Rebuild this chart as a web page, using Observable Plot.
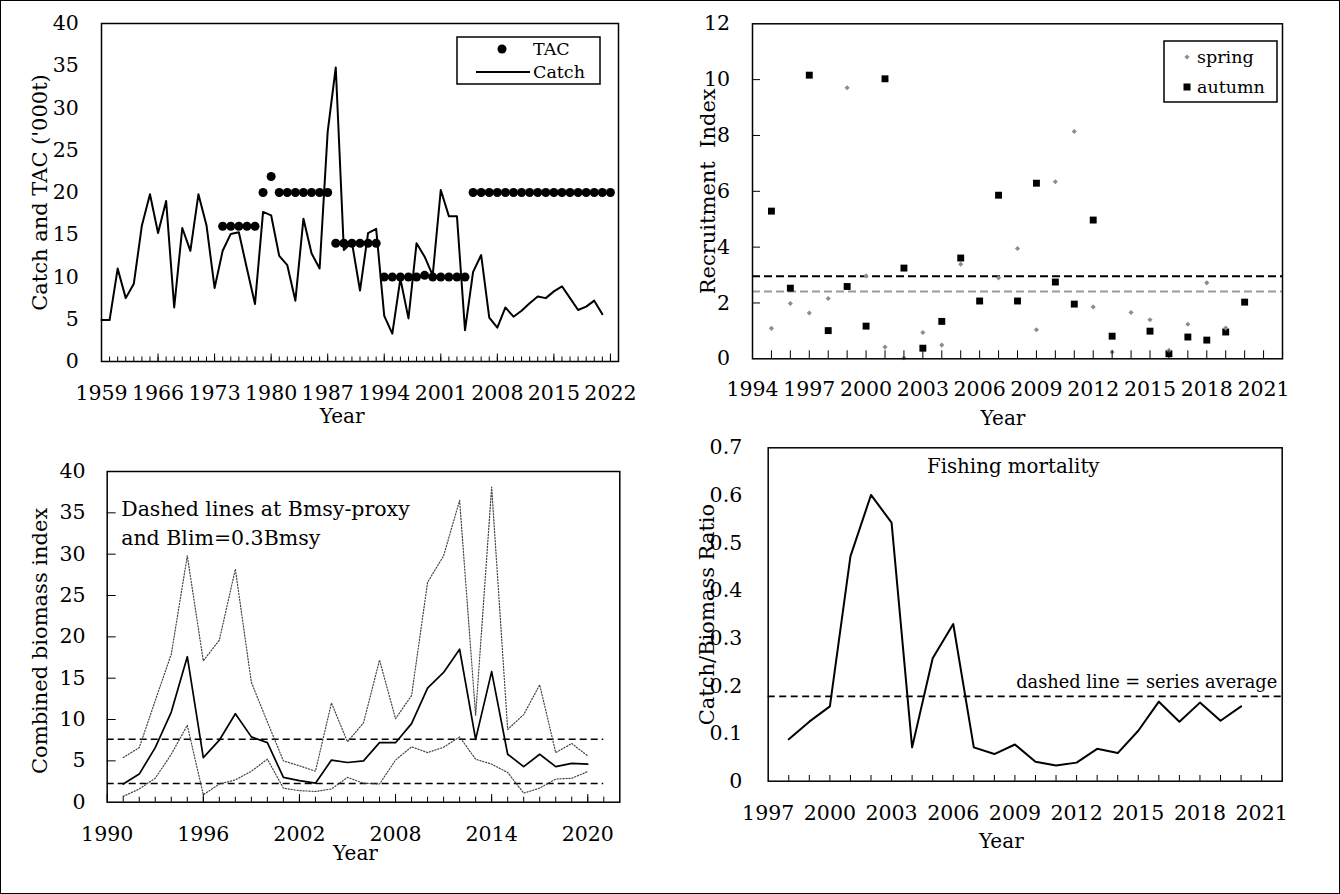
<!DOCTYPE html>
<html>
<head>
<meta charset="utf-8">
<script src="https://cdn.jsdelivr.net/npm/d3@7"></script>
<script src="https://cdn.jsdelivr.net/npm/@observablehq/plot@0.6"></script>
<style>
html,body{margin:0;padding:0;background:#fff;}
#fig{position:relative;width:1340px;height:894px;overflow:hidden;background:#fff;}
#fig svg{position:absolute;}
#border{position:absolute;left:0;top:0;width:1340px;height:894px;box-sizing:border-box;border:1px solid #000;pointer-events:none;z-index:5;}
</style>
</head>
<body>
<div id="fig"><div id="border"></div></div>
<script>
// ---------------- data ----------------
// Panel 1: catch and TAC ('000 t)
const catchYears = d3.range(1959, 2022);
const catchValues = [4.9, 4.9, 11.0, 7.5, 9.2, 16.1, 19.8, 15.2, 19.0, 6.4,
  15.8, 13.1, 19.8, 16.1, 8.7, 13.1, 15.1, 15.3, 11.0, 6.8,
  17.7, 17.3, 12.5, 11.4, 7.2, 16.9, 12.8, 11.0, 27.2, 34.8,
  13.2, 14.1, 8.4, 15.2, 15.7, 5.4, 3.3, 9.8, 5.1, 14.0,
  12.4, 10.2, 20.3, 17.2, 17.2, 3.7, 10.6, 12.6, 5.2, 4.0,
  6.4, 5.3, 6.0, 6.9, 7.7, 7.5, 8.3, 8.9, 7.5, 6.1,
  6.5, 7.2, 5.6];
const tacYears = d3.range(1974, 2023);
const tacValues = [16, 16, 16, 16, 16, 20, 21.9, 20, 20, 20, 20, 20, 20, 20,
  14, 14, 14, 14, 14, 14, 10, 10, 10, 10, 10, 10.2, 10, 10, 10, 10, 10,
  20, 20, 20, 20, 20, 20, 20, 20, 20, 20, 20, 20, 20, 20, 20, 20, 20, 20];
const catchXLabels = [1959, 1966, 1973, 1980, 1987, 1994, 2001, 2008, 2015, 2022];
const catchYLabels = [0, 5, 10, 15, 20, 25, 30, 35, 40];

// Panel 2: recruitment index
const recYears = d3.range(1995, 2021);
const springValues = [1.09, 1.98, 1.64, 2.16, 9.71, 2.97, 0.42, 0.03, 0.94, 0.49,
  3.39, null, 2.90, 3.95, 1.04, 6.34, 8.14, 1.86, 0.24, 1.66,
  1.40, 0.30, 1.24, 2.72, 1.10, null];
const autumnValues = [5.29, 2.53, 10.16, 1.01, 2.59, 1.17, 10.03, 3.25, 0.38, 1.34,
  3.61, 2.07, 5.86, 2.07, 6.29, 2.75, 1.96, 4.97, 0.81, null,
  0.99, 0.18, 0.78, 0.67, 0.96, 2.03];
const springMean = 2.41;
const autumnMean = 2.96;
const recXLabels = [1994, 1997, 2000, 2003, 2006, 2009, 2012, 2015, 2018, 2021];
const recYLabels = [0, 2, 4, 6, 8, 10, 12];

// Panel 3: combined biomass index
const bioYears = d3.range(1991, 2021);
const bioIndex = [2.2, 3.4, 6.6, 10.9, 17.6, 5.4, 7.5, 10.7, 7.9, 7.2,
  3.0, 2.6, 2.3, 5.1, 4.8, 5.0, 7.2, 7.2, 9.5, 13.8,
  15.7, 18.5, 7.6, 15.8, 5.8, 4.3, 5.8, 4.3, 4.7, 4.6];
const bioUpper = [5.4, 6.6, 12.3, 17.9, 29.8, 17.1, 19.6, 28.2, 14.5, 9.7,
  5.0, 4.4, 3.75, 12.0, 7.3, 9.6, 17.2, 10.1, 12.9, 26.6,
  29.8, 36.5, 10.5, 38.1, 8.8, 10.6, 14.2, 6.0, 7.1, 5.6];
const bioLower = [0.7, 1.6, 2.9, 5.8, 9.3, 0.9, 2.2, 2.7, 3.75, 5.2,
  1.7, 1.4, 1.3, 1.6, 3.0, 2.3, 2.2, 5.1, 6.7, 6.0,
  6.65, 7.9, 5.2, 4.6, 3.6, 1.1, 1.7, 2.8, 2.9, 3.7];
const bmsyProxy = 7.6;
const blim = 2.25;
const refLineYears = [1990, 2021];
const bioXLabels = [1990, 1996, 2002, 2008, 2014, 2020];
const bioYLabels = [0, 5, 10, 15, 20, 25, 30, 35, 40];

// Panel 4: fishing mortality (catch/biomass ratio)
const fmYears = d3.range(1998, 2021);
const fmValues = [0.088, 0.125, 0.157, 0.472, 0.601, 0.543, 0.071, 0.258, 0.330, 0.071,
  0.057, 0.077, 0.041, 0.033, 0.039, 0.068, 0.059, 0.106, 0.167, 0.125,
  0.165, 0.127, 0.157];
const fmAverage = 0.178;
const fmXLabels = [1997, 2000, 2003, 2006, 2009, 2012, 2015, 2018, 2021];
const fmYLabels = [0, 0.1, 0.2, 0.3, 0.4, 0.5, 0.6, 0.7];

// ---------------- helpers ----------------
const FONT = '"DejaVu Serif", serif';
const fig = document.getElementById("fig");
const baseStyle = {fontFamily: FONT, fontSize: "20.5px", background: "transparent", overflow: "visible", color: "#000"};
const yearFmt = d => String(d);
function place(svg, left, top) {
  svg.style.left = left + "px";
  svg.style.top = top + "px";
  fig.appendChild(svg);
}
const rows = (xs, ys) => xs.map((x, i) => ({x, y: ys[i]})).filter(d => d.y != null);
const label = (txt, o) => Plot.text([txt], {text: d => d, textAnchor: "middle", lineAnchor: "middle", fill: "#000", ...o});
const dotted = {stroke: "#444", strokeWidth: 1.2, strokeDasharray: "1.2,1.8"};

// ---------------- panel 1 ----------------
place(Plot.plot({
  width: 670, height: 430,
  marginLeft: 101, marginRight: 52, marginTop: 23, marginBottom: 69,
  style: baseStyle,
  x: {domain: [1959, 2023]},
  y: {domain: [0, 40]},
  marks: [
    Plot.line(rows(catchYears, catchValues), {x: "x", y: "y", stroke: "#000", strokeWidth: 2}),
    Plot.dot(rows(tacYears, tacValues), {x: "x", y: "y", r: 4.5, fill: "#000", stroke: null}),
    Plot.axisX({ticks: d3.range(1959, 2024), tickSize: -4.5, tickFormat: () => "", label: null}),
    Plot.axisX({ticks: catchXLabels, tickSize: -7.5, tickPadding: 31.5, tickFormat: yearFmt, label: null}),
    Plot.axisY({ticks: catchYLabels, tickSize: 0, tickPadding: 22.7, label: null}),
    Plot.frame({stroke: "#000", strokeWidth: 1.5}),
    label("Year", {frameAnchor: "bottom", dx: -17.8, dy: 55, fontSize: 20}),
    label("Catch and TAC ('000t)", {frameAnchor: "left", rotate: -90, dx: -61, fontSize: 21})
  ]
}), 0, 0);

// ---------------- panel 2 ----------------
place(Plot.plot({
  width: 670, height: 430,
  marginLeft: 82, marginRight: 58, marginTop: 23.3, marginBottom: 71.7,
  style: baseStyle,
  x: {domain: [1994, 2022]},
  y: {domain: [0, 12]},
  marks: [
    Plot.ruleY([springMean], {stroke: "#999", strokeWidth: 2, strokeDasharray: "8,4"}),
    Plot.ruleY([autumnMean], {stroke: "#000", strokeWidth: 2, strokeDasharray: "8,4"}),
    Plot.dot(rows(recYears, autumnValues), {x: "x", y: "y", symbol: "square", r: 3.9, fill: "#000", stroke: null}),
    Plot.dot(rows(recYears, springValues), {x: "x", y: "y", symbol: "diamond2", r: 2.3, fill: "#8c8c8c", stroke: null}),
    Plot.axisX({ticks: d3.range(1995, 2022), tickSize: -8, tickFormat: () => "", label: null}),
    Plot.axisX({ticks: recXLabels, tickSize: 0, tickPadding: 22.3, tickFormat: yearFmt, label: null}),
    Plot.axisY({ticks: recYLabels.slice(1, -1), tickSize: -8, tickFormat: () => "", label: null}),
    Plot.axisY({ticks: recYLabels, tickSize: 0, tickPadding: 22.4, label: null}),
    Plot.frame({stroke: "#000", strokeWidth: 1.5}),
    label("Year", {frameAnchor: "bottom", dx: -14.5, dy: 59.6, fontSize: 20}),
    label("Recruitment  Index", {frameAnchor: "left", rotate: -90, dx: -44, fontSize: 21})
  ]
}), 670, 0);

// ---------------- panel 3 ----------------
place(Plot.plot({
  width: 670, height: 464,
  marginLeft: 106.7, marginRight: 50.7, marginTop: 41, marginBottom: 92.3,
  style: baseStyle,
  x: {domain: [1990, 2022]},
  y: {domain: [0, 40]},
  marks: [
    Plot.ruleY([bmsyProxy, blim], {x1: refLineYears[0], x2: refLineYears[1], stroke: "#000", strokeWidth: 1.5, strokeDasharray: "7,4"}),
    Plot.line(rows(bioYears, bioUpper), {x: "x", y: "y", ...dotted}),
    Plot.line(rows(bioYears, bioLower), {x: "x", y: "y", ...dotted}),
    Plot.line(rows(bioYears, bioIndex), {x: "x", y: "y", stroke: "#000", strokeWidth: 1.7}),
    Plot.axisX({ticks: d3.range(1991, 2022), tickSize: -5, tickFormat: () => "", label: null}),
    Plot.axisX({ticks: bioXLabels, tickSize: -7.7, tickPadding: 31.7, tickFormat: yearFmt, label: null}),
    Plot.axisY({ticks: bioYLabels.slice(1, -1), tickSize: -9, tickFormat: () => "", label: null}),
    Plot.axisY({ticks: bioYLabels, tickSize: 0, tickPadding: 21.7, label: null}),
    Plot.frame({stroke: "#000", strokeWidth: 1.5}),
    Plot.text(["Dashed lines at Bmsy-proxy\nand Blim=0.3Bmsy"], {text: d => d, frameAnchor: "top-left", textAnchor: "start", lineAnchor: "top", dx: 14, dy: 24.4, lineHeight: 1.41, fontSize: 20.5, fill: "#000"}),
    label("Year", {frameAnchor: "bottom", dx: -8, dy: 51.5, fontSize: 20}),
    label("Combined biomass index", {frameAnchor: "left", rotate: -90, dx: -67, dy: 4, fontSize: 21})
  ]
}), 0, 430);

// ---------------- panel 4 ----------------
place(Plot.plot({
  width: 670, height: 464,
  marginLeft: 97.7, marginRight: 58.3, marginTop: 17.3, marginBottom: 113.3,
  style: baseStyle,
  x: {domain: [1997, 2022]},
  y: {domain: [0, 0.7]},
  marks: [
    Plot.ruleY([fmAverage], {stroke: "#000", strokeWidth: 1.8, strokeDasharray: "7,4.5"}),
    Plot.line(rows(fmYears, fmValues), {x: "x", y: "y", stroke: "#000", strokeWidth: 2}),
    Plot.axisX({ticks: d3.range(1998, 2022), tickSize: -5.7, tickFormat: () => "", label: null}),
    Plot.axisX({ticks: fmXLabels, tickSize: 0, tickPadding: 23.9, tickFormat: yearFmt, label: null}),
    Plot.axisY({ticks: fmYLabels, tickSize: 0, tickPadding: 26, tickFormat: d => d === 0 ? "0" : d.toFixed(1), label: null}),
    Plot.frame({stroke: "#000", strokeWidth: 1.5}),
    label("Fishing mortality", {frameAnchor: "top", dx: -12, dy: 18.7, fontSize: 19.8}),
    Plot.text(["dashed line = series average"], {text: d => d, y: () => fmAverage, frameAnchor: "right", textAnchor: "end", lineAnchor: "middle", dx: -5, dy: -14.3, fontSize: 17.8, fill: "#000"}),
    label("Year", {frameAnchor: "bottom", dx: -23.9, dy: 60.2, fontSize: 20}),
    label("Catch/Biomass Ratio", {frameAnchor: "left", rotate: -90, dx: -61, fontSize: 21})
  ]
}), 670, 430);

// ---------------- legends (inside panels 1 and 2) ----------------
const leg = d3.create("svg").attr("width", 1340).attr("height", 894)
  .style("left", "0px").style("top", "0px").style("font-family", FONT).style("font-size", "17.5px");
// panel 1 legend
leg.append("rect").attr("x", 457).attr("y", 37).attr("width", 143).attr("height", 47)
  .attr("fill", "#fff").attr("stroke", "#000").attr("stroke-width", 1.5);
leg.append("circle").attr("cx", 502).attr("cy", 49).attr("r", 4.5).attr("fill", "#000");
leg.append("text").attr("x", 533).attr("y", 49).attr("dy", "0.35em").text("TAC");
leg.append("line").attr("x1", 476).attr("x2", 530).attr("y1", 72).attr("y2", 72).attr("stroke", "#000").attr("stroke-width", 2);
leg.append("text").attr("x", 533).attr("y", 72).attr("dy", "0.35em").text("Catch");
// panel 2 legend
leg.append("rect").attr("x", 1164).attr("y", 41).attr("width", 113).attr("height", 61)
  .attr("fill", "#fff").attr("stroke", "#000").attr("stroke-width", 1.5);
leg.append("path").attr("d", d3.symbol(d3.symbolDiamond2, Math.PI * 2.3 * 2.3)()).attr("transform", "translate(1187,57)").attr("fill", "#8c8c8c");
leg.append("text").attr("x", 1197).attr("y", 57).attr("dy", "0.35em").text("spring");
leg.append("rect").attr("x", 1183.5).attr("y", 83.5).attr("width", 7).attr("height", 7).attr("fill", "#000");
leg.append("text").attr("x", 1197).attr("y", 87).attr("dy", "0.35em").text("autumn");
fig.appendChild(leg.node());
</script>
</body>
</html>
